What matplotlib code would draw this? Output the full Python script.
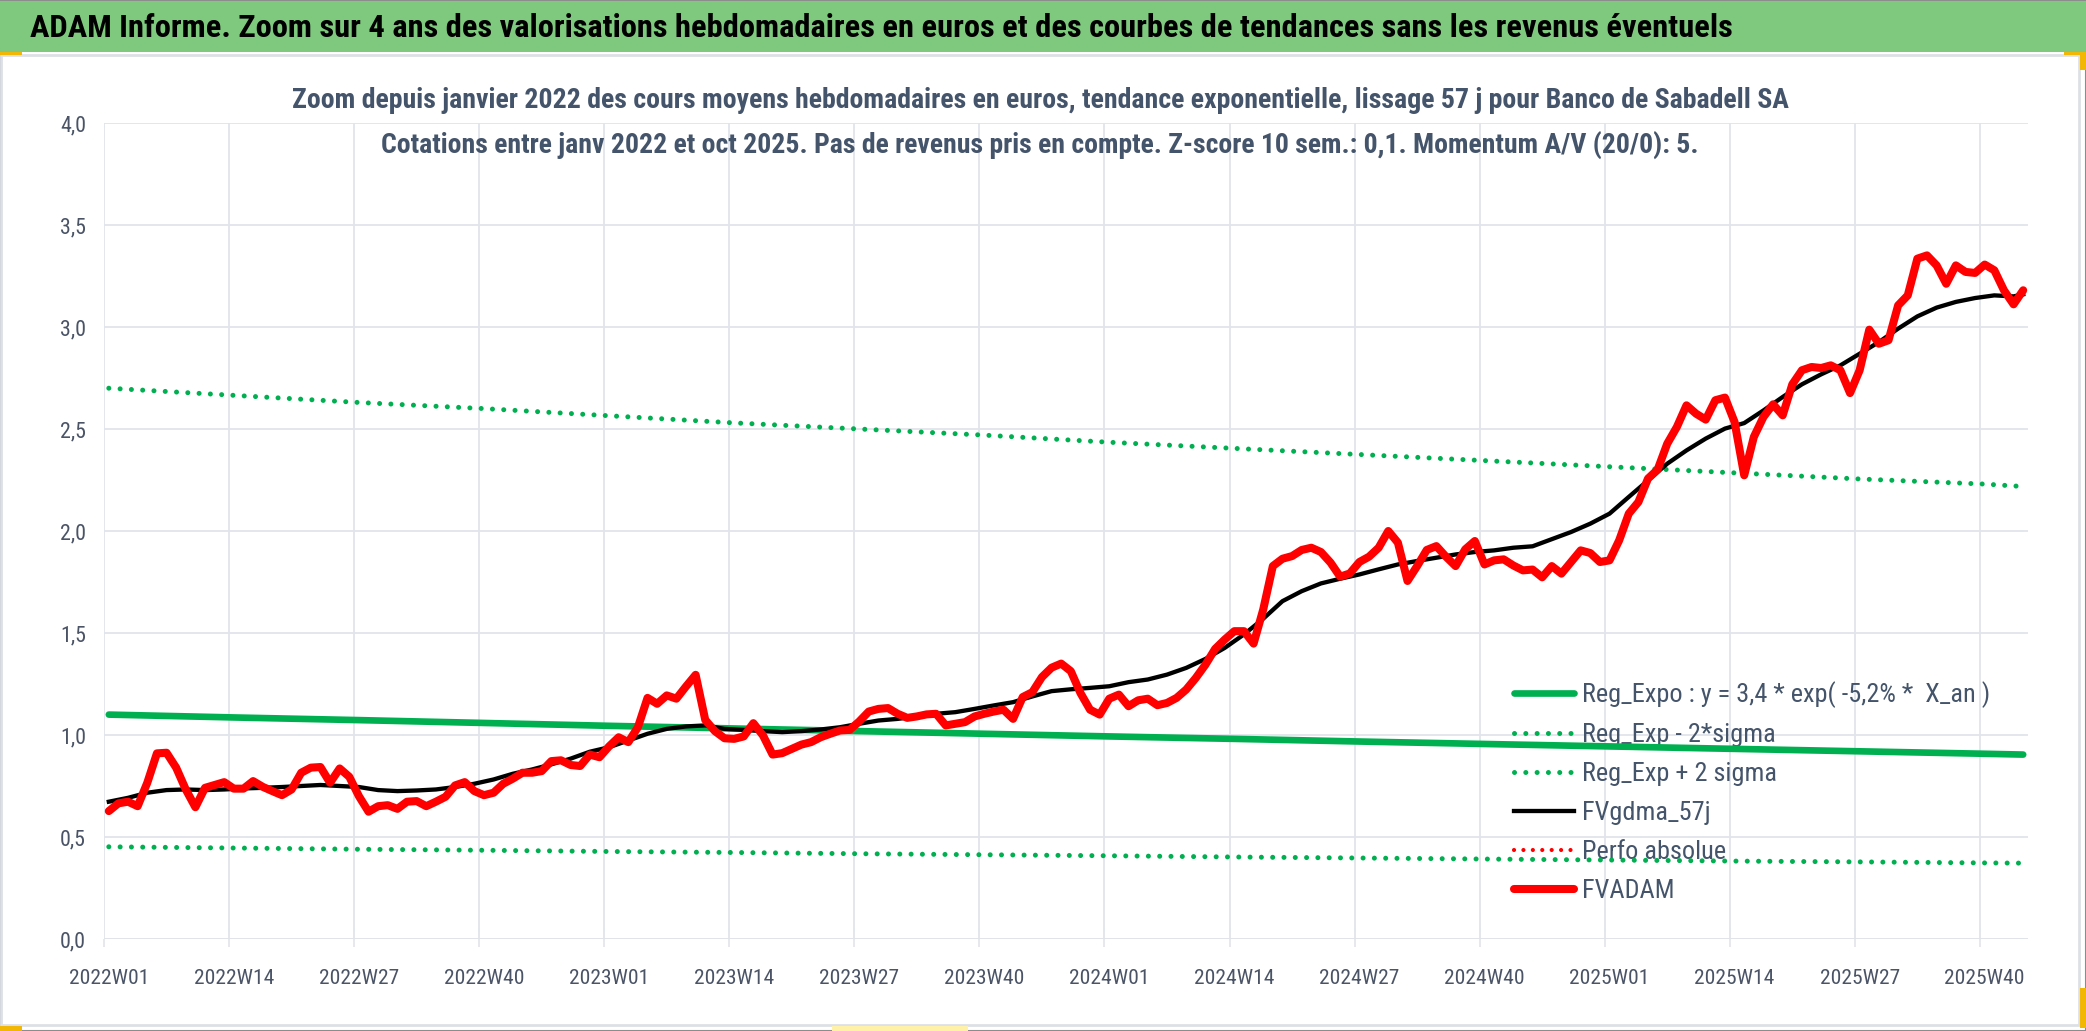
import matplotlib
matplotlib.use("Agg")
import matplotlib.pyplot as plt
from matplotlib import font_manager
from matplotlib.patches import Rectangle

# weekly average price (FVADAM), 2022W01 .. 2025W44
fvadam = [0.627, 0.665, 0.673, 0.651, 0.766, 0.910, 0.913, 0.840, 0.733, 0.646,
          0.741, 0.755, 0.769, 0.737, 0.737, 0.774, 0.746, 0.725, 0.705, 0.733,
          0.815, 0.840, 0.843, 0.766, 0.836, 0.795, 0.700, 0.624, 0.651, 0.656,
          0.638, 0.673, 0.676, 0.651, 0.673, 0.697, 0.753, 0.769, 0.725, 0.705,
          0.717, 0.761, 0.786, 0.815, 0.815, 0.823, 0.872, 0.876, 0.853, 0.848,
          0.904, 0.891, 0.944, 0.989, 0.965, 1.038, 1.182, 1.153, 1.194, 1.178,
          1.238, 1.295, 1.074, 1.019, 0.984, 0.981, 0.993, 1.058, 0.998, 0.904,
          0.911, 0.932, 0.953, 0.965, 0.989, 1.006, 1.022, 1.025, 1.066, 1.115,
          1.128, 1.132, 1.104, 1.084, 1.091, 1.101, 1.104, 1.047, 1.055, 1.063,
          1.091, 1.104, 1.115, 1.124, 1.079, 1.186, 1.210, 1.284, 1.330, 1.350,
          1.313, 1.206, 1.124, 1.100, 1.178, 1.198, 1.141, 1.170, 1.178, 1.146,
          1.157, 1.182, 1.223, 1.280, 1.345, 1.422, 1.468, 1.509, 1.509, 1.448,
          1.615, 1.828, 1.864, 1.877, 1.907, 1.918, 1.897, 1.845, 1.776, 1.792,
          1.848, 1.874, 1.918, 2.000, 1.943, 1.755, 1.828, 1.907, 1.926, 1.874,
          1.828, 1.910, 1.951, 1.836, 1.856, 1.861, 1.831, 1.807, 1.811, 1.773,
          1.828, 1.791, 1.848, 1.905, 1.892, 1.848, 1.856, 1.954, 2.085, 2.142,
          2.257, 2.301, 2.428, 2.510, 2.616, 2.575, 2.546, 2.641, 2.654, 2.534,
          2.273, 2.461, 2.559, 2.621, 2.567, 2.719, 2.788, 2.804, 2.799, 2.812,
          2.788, 2.676, 2.788, 2.987, 2.918, 2.935, 3.106, 3.155, 3.335, 3.351,
          3.302, 3.212, 3.302, 3.270, 3.265, 3.306, 3.278, 3.180, 3.111, 3.180]

# 57-day smoothed curve (FVgdma_57j), read every second week
gdma_weeks = list(range(0, 200, 2)) + [199]
gdma = [0.673, 0.692, 0.717, 0.730, 0.733, 0.730, 0.733, 0.738, 0.741, 0.745,
        0.750, 0.755, 0.750, 0.745, 0.730, 0.725, 0.728, 0.733, 0.745, 0.761,
        0.782, 0.810, 0.831, 0.856, 0.884, 0.918, 0.940, 0.973, 1.006, 1.030,
        1.042, 1.047, 1.030, 1.025, 1.019, 1.014, 1.019, 1.027, 1.038, 1.055,
        1.071, 1.079, 1.091, 1.104, 1.112, 1.128, 1.145, 1.161, 1.189, 1.215,
        1.224, 1.231, 1.239, 1.259, 1.272, 1.296, 1.329, 1.373, 1.427, 1.493,
        1.570, 1.656, 1.705, 1.743, 1.766, 1.787, 1.812, 1.836, 1.853, 1.869,
        1.885, 1.897, 1.905, 1.918, 1.925, 1.960, 1.995, 2.036, 2.085, 2.167,
        2.248, 2.330, 2.395, 2.453, 2.502, 2.529, 2.591, 2.657, 2.719, 2.768,
        2.812, 2.869, 2.926, 2.992, 3.052, 3.095, 3.123, 3.142, 3.155, 3.150,
        3.160]

# exponential regression and +/- 2 sigma bands, read every 13 weeks
reg_weeks = [0, 13, 26, 39, 52, 65, 78, 91, 104, 117, 130, 143, 156, 169, 182, 195, 199]
reg_expo = [1.100, 1.086, 1.073, 1.059, 1.045, 1.032, 1.019, 1.006, 0.993, 0.981,
            0.968, 0.956, 0.944, 0.932, 0.920, 0.908, 0.904]
reg_minus = [0.452, 0.446, 0.440, 0.435, 0.429, 0.424, 0.418, 0.413, 0.408, 0.402,
             0.397, 0.392, 0.387, 0.382, 0.378, 0.373, 0.372]
reg_plus = [2.700, 2.665, 2.630, 2.600, 2.565, 2.530, 2.500, 2.470, 2.435, 2.405,
            2.375, 2.345, 2.315, 2.285, 2.255, 2.230, 2.218]

tick_labels = ['2022W01', '2022W14', '2022W27', '2022W40', '2023W01', '2023W14',
               '2023W27', '2023W40', '2024W01', '2024W14', '2024W27', '2024W40',
               '2025W01', '2025W14', '2025W27', '2025W40']
y_ticks = [0.0, 0.5, 1.0, 1.5, 2.0, 2.5, 3.0, 3.5, 4.0]

title = ("ADAM Informe. Zoom sur 4 ans des valorisations hebdomadaires en euros "
         "et des courbes de tendances sans les revenus éventuels")
subtitle1 = ("Zoom depuis janvier 2022 des cours moyens hebdomadaires en euros, "
             "tendance exponentielle, lissage 57 j pour Banco de Sabadell SA")
subtitle2 = ("Cotations entre janv 2022 et oct 2025. Pas de revenus pris en compte. "
             "Z-score 10 sem.: 0,1. Momentum A/V (20/0): 5.")

# pick a narrow face if there is one, the reference uses a condensed font
names = {f.name for f in font_manager.fontManager.ttflist}
family = 'Liberation Sans'
for cand in ['Liberation Sans Narrow', 'Roboto Condensed', 'Open Sans Condensed',
             'Noto Sans Condensed', 'Liberation Sans']:
    if cand in names:
        family = cand
        break
plt.rcParams['font.family'] = [family, 'DejaVu Sans']

W, H = 2086, 1031
fig = plt.figure(figsize=(W / 100, H / 100), dpi=100)
renderer = fig.canvas.get_renderer()


def fit_size(text, target_px, weight='normal', ref=20):
    # font size that makes text about target_px wide
    t = fig.text(0, 0, text, fontsize=ref, fontweight=weight)
    w = t.get_window_extent(renderer).width
    t.remove()
    return ref * target_px / w


# frame, title band and the little selection handles
fig.patches.append(Rectangle((0, 0), 1, 1, transform=fig.transFigure,
                             facecolor='none', edgecolor='#8C8C8C', lw=1.5, zorder=3))
fig.patches.append(Rectangle((1 / W, 6 / H), 2078 / W, (1025 - 55) / H,
                             transform=fig.transFigure, facecolor='none',
                             edgecolor='#DDE1E7', lw=2, zorder=3))
fig.patches.append(Rectangle((0, 1 - 52 / H), 1, 51 / H, transform=fig.transFigure,
                             facecolor='#7FC97E', edgecolor='none', zorder=3))
handle_col = '#F2B705'
for (x0, y0, w, h) in [(0, 52, 22, 3), (2064, 52, 22, 3), (2080, 52, 6, 18),
                       (2080, 988, 6, 40), (0, 1026, 22, 5)]:
    fig.patches.append(Rectangle((x0 / W, 1 - (y0 + h) / H), w / W, h / H,
                                 transform=fig.transFigure, facecolor=handle_col,
                                 edgecolor='none', zorder=4))
fig.patches.append(Rectangle((832 / W, 1 - 1031 / H), 136 / W, 5 / H,
                             transform=fig.transFigure, facecolor='#FFF2A8',
                             edgecolor='none', zorder=4))

fig.text(30 / W, 1 - 28 / H, title, fontsize=fit_size(title, 1700, 'bold'),
         fontweight='bold', color='black', ha='left', va='center', zorder=5)
fig.text(1040 / W, 1 - 101 / H, subtitle1, fontsize=fit_size(subtitle1, 1495, 'bold'),
         fontweight='bold', color='#44546A', ha='center', va='center')
fig.text(1040 / W, 1 - 145 / H, subtitle2, fontsize=fit_size(subtitle2, 1315, 'bold'),
         fontweight='bold', color='#44546A', ha='center', va='center')

xtick_size = fit_size('2022W01', 80)
ytick_size = fit_size('4,0', 26)
legend_size = fit_size('Reg_Expo : y = 3,4 * exp( -5,2% *  X_an )', 408)

ax = fig.add_axes([104 / W, (H - 939) / H, (2028 - 104) / W, (939 - 123) / H])
ax.set_facecolor('none')

grid_col = '#E1E4EA'
dot_style = (0, (0.01, 2.25))

ax.plot(reg_weeks, reg_expo, color='#00B050', lw=4.8, solid_capstyle='round',
        label='Reg_Expo : y = 3,4 * exp( -5,2% *  X_an )', zorder=3)
ax.plot(reg_weeks, reg_minus, color='#00B050', lw=3.6, linestyle=dot_style,
        dash_capstyle='round', label='Reg_Exp - 2*sigma', zorder=3)
ax.plot(reg_weeks, reg_plus, color='#00B050', lw=3.6, linestyle=dot_style,
        dash_capstyle='round', label='Reg_Exp + 2 sigma', zorder=3)
ax.plot(gdma_weeks, gdma, color='black', lw=3.1, solid_joinstyle='round',
        label='FVgdma_57j', zorder=4)
ax.plot([], [], color='#FF0000', lw=3.0, linestyle=dot_style,
        dash_capstyle='round', label='Perfo absolue')
ax.plot(range(len(fvadam)), fvadam, color='#FF0000', lw=5.8,
        solid_joinstyle='round', solid_capstyle='round', label='FVADAM', zorder=5)

ax.set_xlim(-0.5, 199.5)
ax.set_ylim(0, 4)

boundaries = [13 * k - 0.5 for k in range(len(tick_labels))]
ax.set_xticks(boundaries)
ax.set_xticklabels([])
ax.set_xticks([13 * k for k in range(len(tick_labels))], minor=True)
ax.set_xticklabels(tick_labels, minor=True)
ax.tick_params(axis='x', which='major', length=6, width=1.2, color=grid_col)
ax.tick_params(axis='x', which='minor', length=0, pad=21.5, labelsize=xtick_size,
               labelcolor='#4A5466')
ax.set_yticks(y_ticks)
ax.set_yticklabels([f'{v:.1f}'.replace('.', ',') for v in y_ticks])
ax.tick_params(axis='y', length=0, pad=13, labelsize=ytick_size, labelcolor='#4A5466')

ax.grid(True, which='major', color=grid_col, lw=1.3, zorder=0)
for s in ax.spines.values():
    s.set_visible(False)
ax.axhline(0, color='#D9DDE3', lw=2, zorder=1)

leg = ax.legend(loc='upper left', bbox_to_anchor=(1514 / W, 1 - 681 / H),
                bbox_transform=fig.transFigure, frameon=False, fontsize=legend_size,
                handlelength=2.3, handletextpad=0.3, labelspacing=0.57,
                borderpad=0, borderaxespad=0)
for t in leg.get_texts():
    t.set_color('#44546A')
leg.set_zorder(2.5)

fig.savefig('out.png', dpi=100)
